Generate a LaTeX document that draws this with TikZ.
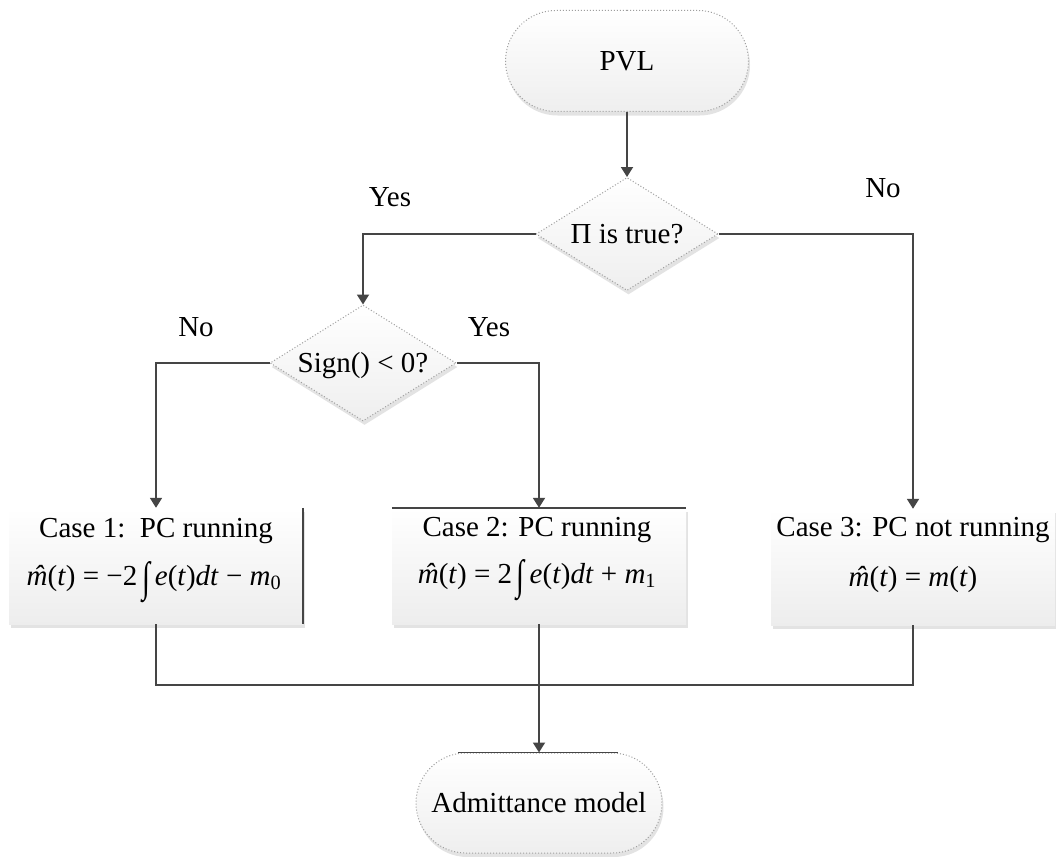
\documentclass[tikz,border=0pt]{standalone}
\usepackage{graphicx}
\usepackage{fontspec}
\setmainfont{Liberation Serif}
\usetikzlibrary{shapes.geometric,shapes.misc,arrows.meta,shadows}
\definecolor{lc}{HTML}{454545}
\tikzset{
  base/.style={font=\fontsize{29pt}{34pt}\selectfont, text=black},
  shd/.style={drop shadow={shadow xshift=1.5pt, shadow yshift=-4pt, opacity=0.22, fill=gray}},
  term/.style={base, rounded rectangle, draw=gray!75, dotted, line width=1pt,
    top color=white, bottom color=gray!13, shd, inner sep=0pt},
  decision/.style={base, diamond, draw=gray!75, dotted, line width=1pt,
    top color=white, bottom color=gray!13, shd, inner sep=0pt},
  casebox/.style={rectangle, inner sep=0pt, top color=white, bottom color=gray!14, shd},
  lbl/.style={base, inner sep=0pt},
  conn/.style={draw=lc, line width=1.8pt},
  arr/.style={conn, -{Triangle[width=12pt,length=10pt]}}
}
\newcommand{\dtext}[1]{\smash{\raisebox{-0.33em}{\makebox[0pt]{#1}}}}
\newcommand{\vr}[1]{\textit{#1}}
\newcommand{\mhat}{\textit{\ooalign{m\cr\hidewidth\kern0.08em ˆ\hidewidth\cr}}}
\newcommand{\bigint}{\,\raisebox{-0.22em}{\scalebox{1}[1.45]{∫}}\,}
\begin{document}
\begin{tikzpicture}[x=1pt,y=-1pt]
\useasboundingbox (0,0) rectangle (1056,856);
\fill[white] (0,0) rectangle (1056,856);

% nodes
\node[term, minimum width=243pt, minimum height=101pt] (pvl) at (627,61) {PVL};
\node[decision, minimum width=182pt, minimum height=113pt] (d1) at (627,234) {\dtext{Π is true?}};
\node[decision, minimum width=186pt, minimum height=116pt] (d2) at (363,363) {\dtext{Sign() < 0?}};

\node[casebox, minimum width=294pt, minimum height=116pt] (c1) at (156,566) {};
\node[casebox, minimum width=294pt, minimum height=116pt] (c2) at (539,566) {};
\node[casebox, minimum width=284pt, minimum height=116pt] (c3) at (913,567) {};

\node[lbl] (c1t) at (156,531) {Case 1:\ \ PC running};
\node[lbl] (c1m) at (154,582) {\mhat(\vr{t}) = −2\bigint\vr{e}(\vr{t})\vr{dt} − \vr{m}\textsubscript{0}};
\node[lbl] (c2t) at (537,530) {Case 2: PC running};
\node[lbl] (c2m) at (537,580) {\mhat(\vr{t}) = 2\bigint\vr{e}(\vr{t})\vr{dt} + \vr{m}\textsubscript{1}};
\node[lbl] (c3t) at (913,530) {Case 3: PC not running};
\node[lbl] (c3m) at (913,580) {\mhat(\vr{t}) = \vr{m}(\vr{t})};

\node[term, minimum width=246pt, minimum height=100pt] (adm) at (539,803) {Admittance model};

% branch labels
\node[lbl] (y1) at (390,197) {Yes};
\node[lbl] (n1) at (883,188) {No};
\node[lbl] (n2) at (196,327) {No};
\node[lbl] (y2) at (489,327) {Yes};

% partial borders of the case boxes
\draw[conn] (c1.north east) -- (c1.south east);
\draw[conn] (c2.north west) -- (c2.north east);

% connectors
\draw[arr] (pvl.south) -- (d1.north);
\draw[arr] (d1.west) -| (d2.north);
\draw[arr] (d1.east) -| (c3.north);
\draw[arr] (d2.west) -| (c1.north);
\draw[arr] (d2.east) -| (c2.north);

\coordinate (j) at (539,685);
\draw[conn] (c1.south) |- (j) -| (c3.south);
\draw[arr] (c2.south) -- (adm.north);
\draw[conn] ([xshift=-81pt]adm.north) -- ([xshift=79pt]adm.north);
\end{tikzpicture}
\end{document}
